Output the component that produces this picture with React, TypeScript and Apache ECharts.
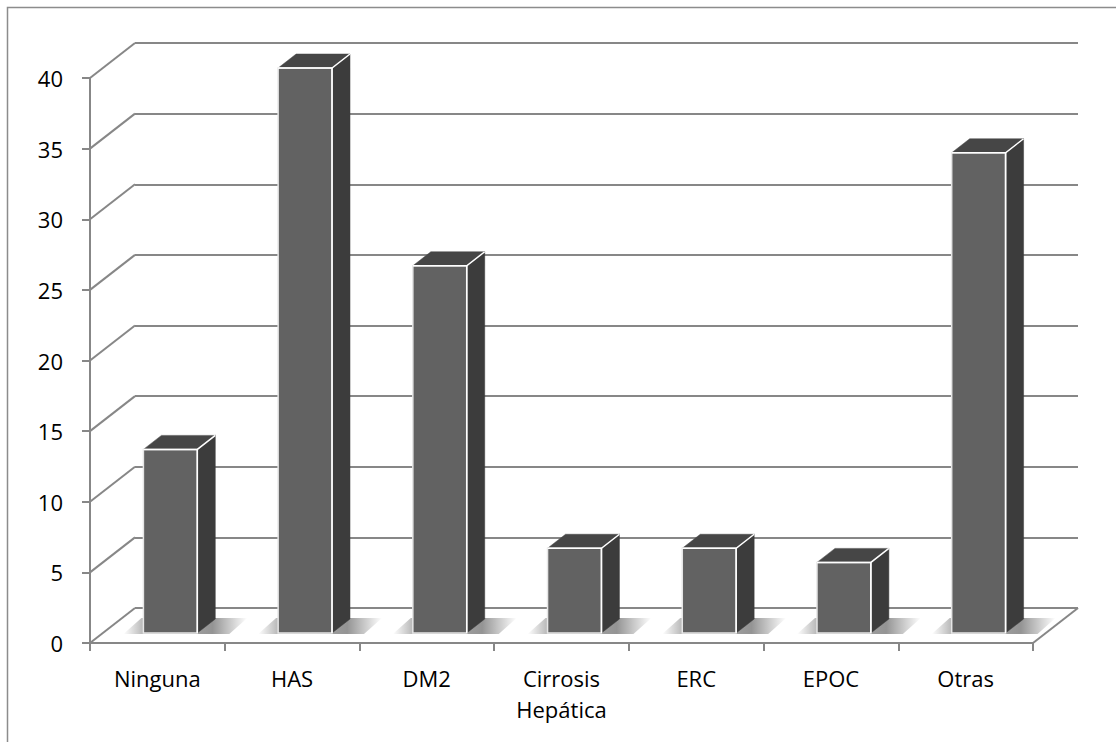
import React, { useEffect, useRef } from "react";
import * as echarts from "echarts";

// Comorbidity counts per category
const categories = ["Ninguna", "HAS", "DM2", "Cirrosis\nHepática", "ERC", "EPOC", "Otras"];
const values = [13, 40, 26, 6, 6, 5, 34];
const tickValues = [0, 5, 10, 15, 20, 25, 30, 35, 40];

const LINE = "#878787";
const FONT = "Open Sans";

// perspective offset of the back wall and of each bar
const WALL_DX = 45;
const WALL_DY = -35;
const BAR_OX = 13;
const BAR_OY = -10;
const BAR_DX = 18;
const BAR_DY = -14;

export default function App() {
  const ref = useRef<HTMLDivElement>(null);

  useEffect(() => {
    if (!ref.current) return;
    const chart = echarts.init(ref.current, null, { renderer: "svg" });

    const gridBox = { left: 90, top: 78, right: 83, bottom: 99 };

    const option: any = {
      animation: false,
      backgroundColor: "#ffffff",
      textStyle: { fontFamily: FONT },
      graphic: [
        {
          type: "rect",
          left: 5,
          top: 5,
          shape: { width: 1300, height: 900 },
          style: { fill: "none", stroke: "#8c8c8c", lineWidth: 1.5 },
          silent: true,
          z: 0,
        },
      ],
      grid: [
        { ...gridBox },
        {
          left: gridBox.left + WALL_DX,
          top: gridBox.top + WALL_DY,
          right: gridBox.right - WALL_DX,
          bottom: gridBox.bottom - WALL_DY,
        },
      ],
      xAxis: [
        {
          type: "category",
          gridIndex: 0,
          data: categories,
          boundaryGap: true,
          axisLine: { show: true, lineStyle: { color: LINE, width: 2 } },
          axisTick: { show: true, length: 8, interval: 0, lineStyle: { color: LINE, width: 2 } },
          axisLabel: {
            interval: 0,
            margin: 19,
            color: "#000",
            fontFamily: FONT,
            fontSize: 22,
            lineHeight: 31,
          },
        },
        {
          type: "category",
          gridIndex: 1,
          data: categories,
          show: false,
        },
      ],
      yAxis: [
        {
          type: "value",
          gridIndex: 0,
          min: 0,
          max: 40,
          interval: 5,
          axisLine: { show: true, lineStyle: { color: LINE, width: 2 } },
          axisTick: { show: true, length: 8, lineStyle: { color: LINE, width: 2 } },
          splitLine: { show: false },
          axisLabel: {
            margin: 27,
            color: "#000",
            fontFamily: FONT,
            fontSize: 22,
          },
        },
        {
          type: "value",
          gridIndex: 1,
          min: 0,
          max: 40,
          interval: 5,
          axisLine: { show: false },
          axisTick: { show: false },
          axisLabel: { show: false },
          splitLine: { show: true, lineStyle: { color: LINE, width: 2 } },
        },
      ],
      series: [
        // diagonals joining the front axis ticks to the back wall, plus the floor's right edge
        {
          type: "custom",
          xAxisIndex: 0,
          yAxisIndex: 0,
          z: 1,
          silent: true,
          data: tickValues.map((v) => [0, v]),
          renderItem: (params: any, api: any) => {
            const cs = params.coordSys;
            const y = api.coord([0, api.value(1)])[1];
            const children: any[] = [
              {
                type: "line",
                shape: { x1: cs.x, y1: y, x2: cs.x + WALL_DX, y2: y + WALL_DY },
                style: { stroke: LINE, lineWidth: 2 },
              },
            ];
            if (api.value(1) === 0) {
              children.push({
                type: "line",
                shape: {
                  x1: cs.x + cs.width,
                  y1: y,
                  x2: cs.x + cs.width + WALL_DX,
                  y2: y + WALL_DY,
                },
                style: { stroke: LINE, lineWidth: 2 },
              });
            }
            return { type: "group", children };
          },
        },
        // 3D bars with floor shadows
        {
          type: "custom",
          xAxisIndex: 0,
          yAxisIndex: 0,
          z: 3,
          silent: true,
          data: values.map((v, i) => [i, v]),
          renderItem: (params: any, api: any) => {
            const i = api.value(0);
            const v = api.value(1);
            const base = api.coord([i, 0]);
            const top = api.coord([i, v]);
            const band = api.size([1, 0])[0];
            const fw = band * 0.4;
            const xl = base[0] - fw / 2 + BAR_OX;
            const xr = xl + fw;
            const yb = base[1] + BAR_OY;
            const yt = top[1] + BAR_OY;

            const shL = xl - 20;
            const shR = xr + 32;
            const shadow = {
              type: "polygon",
              shape: {
                points: [
                  [shL, yb + 1],
                  [shR, yb + 1],
                  [shR + BAR_DX, yb + BAR_DY - 1],
                  [shL + BAR_DX, yb + BAR_DY - 1],
                ],
              },
              style: {
                fill: {
                  type: "linear",
                  x: 0,
                  y: 0,
                  x2: 1,
                  y2: 0,
                  colorStops: [
                    { offset: 0, color: "rgba(0,0,0,0)" },
                    { offset: 0.16, color: "rgba(0,0,0,0.28)" },
                    { offset: 0.72, color: "rgba(0,0,0,0.42)" },
                    { offset: 1, color: "rgba(0,0,0,0)" },
                  ],
                },
              },
            };
            const side = {
              type: "polygon",
              shape: {
                points: [
                  [xr, yb],
                  [xr + BAR_DX, yb + BAR_DY],
                  [xr + BAR_DX, yt + BAR_DY],
                  [xr, yt],
                ],
              },
              style: { fill: "#3c3c3c", stroke: "#3c3c3c", lineWidth: 0.5 },
            };
            const topFace = {
              type: "polygon",
              shape: {
                points: [
                  [xl, yt],
                  [xr, yt],
                  [xr + BAR_DX, yt + BAR_DY],
                  [xl + BAR_DX, yt + BAR_DY],
                ],
              },
              style: { fill: "#464646", stroke: "#464646", lineWidth: 0.5 },
            };
            const front = {
              type: "rect",
              shape: { x: xl, y: yt, width: fw, height: yb - yt },
              style: { fill: "#626262", stroke: "#e6e6e6", lineWidth: 1.5 },
            };
            const edge = {
              type: "polyline",
              shape: {
                points: [
                  [xl, yt],
                  [xr, yt],
                  [xr + BAR_DX, yt + BAR_DY],
                ],
              },
              style: { stroke: "#ffffff", lineWidth: 1.5, fill: "none" },
            };
            const edge2 = {
              type: "line",
              shape: { x1: xr, y1: yt, x2: xr, y2: yb },
              style: { stroke: "#ffffff", lineWidth: 1.5 },
            };
            return { type: "group", children: [shadow, side, topFace, front, edge, edge2] };
          },
        },
      ],
    };

    chart.setOption(option);
    return () => chart.dispose();
  }, []);

  return (
    <div
      ref={ref}
      style={{ position: "fixed", left: 0, top: 0, width: 1116, height: 742, background: "#fff" }}
    />
  );
}
